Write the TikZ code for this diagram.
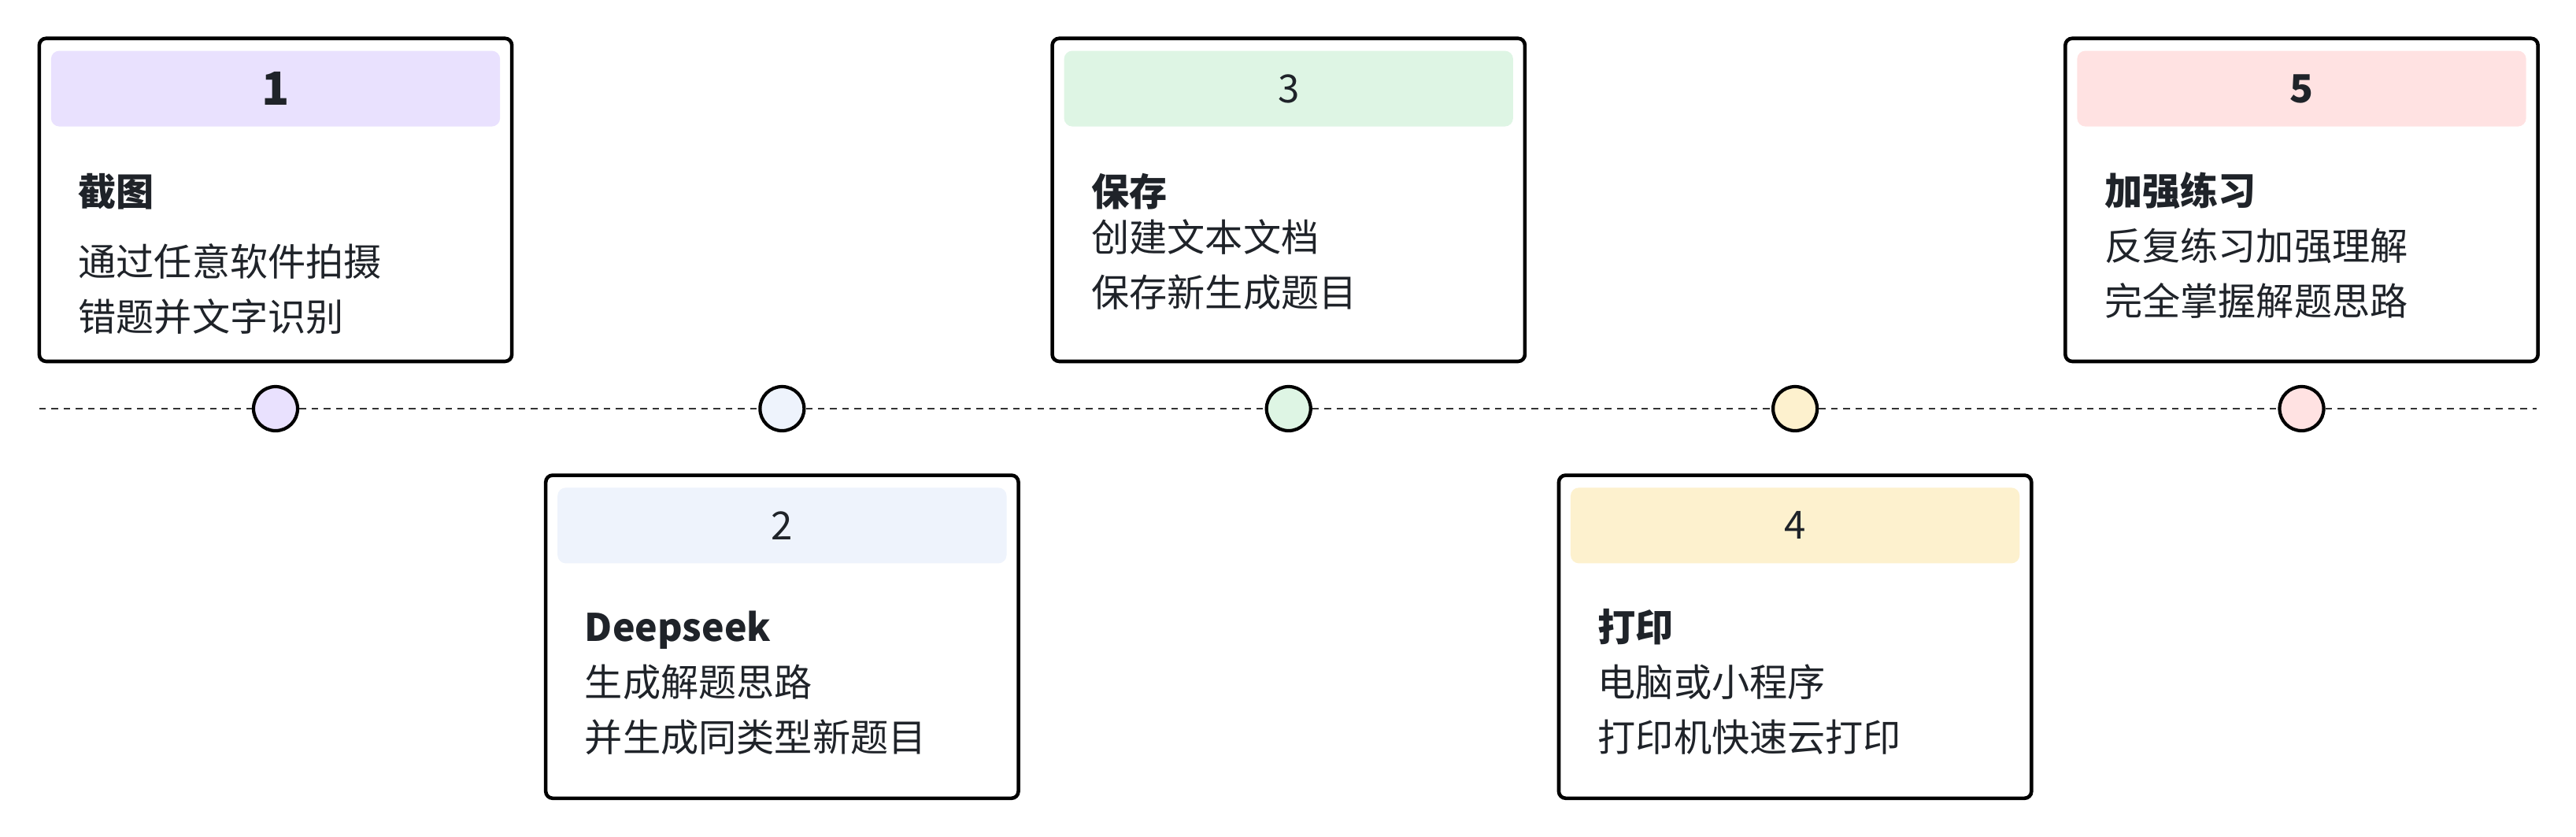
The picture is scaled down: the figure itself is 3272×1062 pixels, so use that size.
\documentclass[tikz,border=0pt]{standalone}
\usepackage{fontspec}
\setmainfont{Noto Sans CJK SC}
\usetikzlibrary{positioning}

\definecolor{ink}{HTML}{1F2329}
\definecolor{rule}{HTML}{333333}
\definecolor{lilac}{HTML}{E9E1FE}
\definecolor{ice}{HTML}{EEF3FC}
\definecolor{mint}{HTML}{DEF5E4}
\definecolor{cream}{HTML}{FDF1CE}
\definecolor{blush}{HTML}{FFE2E2}

\begin{document}
\begin{tikzpicture}[
      x = 0.01cm, y = -0.01cm,
      node distance = 6.43cm,
      semithick]
      \tikzstyle{card}=[
      draw = black,
      line width = 1.3pt,
      rounded corners = 2.5pt,
      fill = white,
      minimum width = 6cm,
      minimum height = 4.1cm]
      \tikzstyle{head}=[
      rounded corners = 3pt,
      inner sep = 0pt,
      minimum width = 5.7cm,
      minimum height = 0.96cm,
      text = ink,
      font = \fontsize{14pt}{16pt}\selectfont]
      \tikzstyle{dot}=[
      circle,
      draw = black,
      line width = 1.2pt,
      inner sep = 0pt,
      minimum size = 0.56cm]
      \tikzstyle{ttl}=[
      anchor = west,
      inner sep = 0pt,
      text height = 0.42cm,
      text depth = 0.06cm,
      text = ink,
      font = \fontsize{13.7pt}{16pt}\selectfont\bfseries]
      \tikzstyle{txt}=[ttl, font = \fontsize{13.7pt}{16pt}\selectfont]
      \tikzstyle{timeline}=[draw = rule, line width = 0.6pt, dash pattern = on 2.4pt off 2pt]

      \useasboundingbox (0,0) rectangle (3272,1062);

      % dots on the time line
      \node[dot, fill = lilac] (d1) at (350,519) {};
      \node[dot, fill = ice] (d2) [right of=d1] {};
      \node[dot, fill = mint] (d3) [right of=d2] {};
      \node[dot, fill = cream] (d4) [right of=d3] {};
      \node[dot, fill = blush] (d5) [right of=d4] {};

      \coordinate (tl-start) at (50,519);
      \coordinate (tl-end) at (3222,519);
      \path[timeline] (tl-start) -- (d1) -- (d2) -- (d3) -- (d4) -- (d5) -- (tl-end);

      % cards
      \node[card, node distance = 2.65cm, above of=d1] (b1) {};
      \node[card, node distance = 2.895cm, below of=d2] (b2) {};
      \node[card, node distance = 2.65cm, above of=d3] (b3) {};
      \node[card, node distance = 2.895cm, below of=d4] (b4) {};
      \node[card, node distance = 2.65cm, above of=d5] (b5) {};

      % headers
      \node[head, fill = lilac, below = 0.17cm of b1.north, font = \fontsize{16.5pt}{18pt}\selectfont\bfseries] (h1) {1};
      \node[head, fill = ice, below = 0.17cm of b2.north] (h2) {2};
      \node[head, fill = mint, below = 0.17cm of b3.north] (h3) {3};
      \node[head, fill = cream, below = 0.17cm of b4.north] (h4) {4};
      \node[head, fill = blush, below = 0.17cm of b5.north, font = \fontsize{14pt}{16pt}\selectfont\bfseries] (h5) {5};

      % texts
      \node[ttl] (t1) at ([shift={(51,197)}]b1.north west) {截图};
      \node[txt] (t1a) at ([shift={(0,89)}]t1.west) {通过任意软件拍摄};
      \node[txt] (t1b) at ([shift={(0,70)}]t1a.west) {错题并文字识别};

      \node[ttl] (t2) at ([shift={(51,195)}]b2.north west) {Deepseek};
      \node[txt] (t2a) at ([shift={(0,70)}]t2.west) {生成解题思路};
      \node[txt] (t2b) at ([shift={(0,70)}]t2a.west) {并生成同类型新题目};

      \node[ttl] (t3) at ([shift={(51,197)}]b3.north west) {保存};
      \node[txt] (t3a) at ([shift={(0,58)}]t3.west) {创建文本文档};
      \node[txt] (t3b) at ([shift={(0,70)}]t3a.west) {保存新生成题目};

      \node[ttl] (t4) at ([shift={(51,195)}]b4.north west) {打印};
      \node[txt] (t4a) at ([shift={(0,70)}]t4.west) {电脑或小程序};
      \node[txt] (t4b) at ([shift={(0,70)}]t4a.west) {打印机快速云打印};

      \node[ttl] (t5) at ([shift={(51,196)}]b5.north west) {加强练习};
      \node[txt] (t5a) at ([shift={(0,70)}]t5.west) {反复练习加强理解};
      \node[txt] (t5b) at ([shift={(0,70)}]t5a.west) {完全掌握解题思路};
\end{tikzpicture}
\end{document}
